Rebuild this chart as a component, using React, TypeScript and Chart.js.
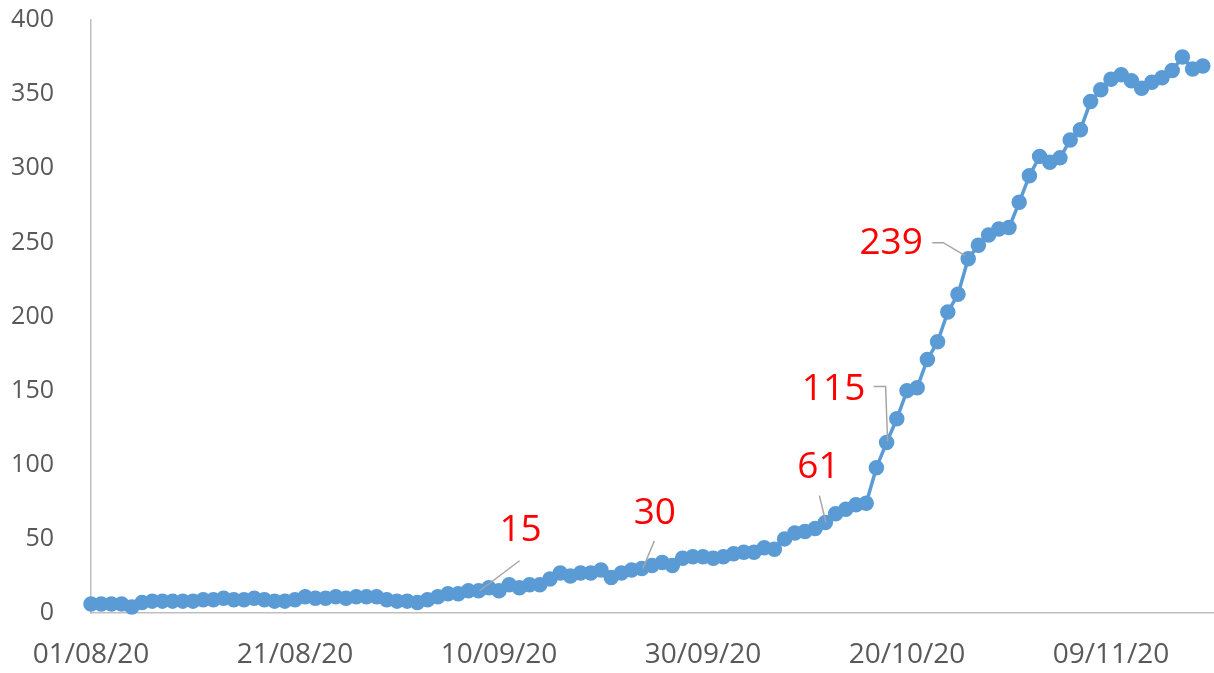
import React, { useEffect, useRef } from "react";
import { Chart, registerables } from "chart.js";

Chart.register(...registerables);

// Day index 0 = 01/08/20
const startDate = [2020, 7, 1];
const tickLabels = ["01/08/20", "21/08/20", "10/09/20", "30/09/20", "20/10/20", "09/11/20"];
const values = [
  6, 6, 6, 6, 4, 7, 8, 8, 8, 8,
  8, 9, 9, 10, 9, 9, 10, 9, 8, 8,
  9, 11, 10, 10, 11, 10, 11, 11, 11, 9,
  8, 8, 7, 9, 11, 13, 13, 15, 15, 17,
  15, 19, 17, 19, 19, 23, 27, 25, 27, 27,
  29, 24, 27, 29, 30, 32, 34, 32, 37, 38,
  38, 37, 38, 40, 41, 41, 44, 43, 50, 54,
  55, 57, 61, 67, 70, 73, 74, 98, 115, 131,
  150, 152, 171, 183, 203, 215, 239, 248, 255, 259,
  260, 277, 295, 308, 304, 307, 319, 326, 345, 353,
  360, 363, 359, 354, 358, 361, 366, 375, 367, 369,
];
const labelledDays = [38, 54, 72, 78, 86];

const categories = values.map((_, i) => {
  const d = new Date(startDate[0], startDate[1], startDate[2] + i);
  const dd = String(d.getDate()).padStart(2, "0");
  const mm = String(d.getMonth() + 1).padStart(2, "0");
  const yy = String(d.getFullYear()).slice(2);
  return `${dd}/${mm}/${yy}`;
});

// label text offsets and leader lines, relative to the point (px)
const labelStyle: Record<number, { dx: number; dy: number; leader: number[][] }> = {
  38: { dx: 42, dy: -60, leader: [[41, -30], [1, 0]] },
  54: { dx: 13, dy: -55, leader: [[12.5, -27.5], [1, 0]] },
  72: { dx: -7, dy: -55, leader: [[-6, -27], [0.5, 0]] },
  78: { dx: -53, dy: -53, leader: [[-13, -56], [-1, -56], [1, -1]] },
  86: { dx: -77, dy: -15, leader: [[-36, -16], [-25, -16], [-3, -3]] },
};

const dataLabelPlugin = {
  id: "dataLabelPlugin",
  afterDatasetsDraw(chart: any) {
    const ctx = chart.ctx;
    const meta = chart.getDatasetMeta(0);
    ctx.save();
    labelledDays.forEach((i) => {
      const pt = meta.data[i];
      const st = labelStyle[i];
      if (!pt || !st) return;
      ctx.strokeStyle = "#A6A6A6";
      ctx.lineWidth = 1.5;
      ctx.beginPath();
      st.leader.forEach(([lx, ly], k) => {
        if (k === 0) ctx.moveTo(pt.x + lx, pt.y + ly);
        else ctx.lineTo(pt.x + lx, pt.y + ly);
      });
      ctx.stroke();
      ctx.fillStyle = "#FF0000";
      ctx.font = "37px 'Open Sans'";
      ctx.textAlign = "center";
      ctx.textBaseline = "middle";
      ctx.fillText(String(values[i]), pt.x + st.dx, pt.y + st.dy);
    });
    ctx.restore();
  },
};

export default function App() {
  const ref = useRef<HTMLCanvasElement | null>(null);
  useEffect(() => {
    if (!ref.current) return;
    const chart = new Chart(ref.current, {
      type: "line",
      data: {
        datasets: [
          {
            data: values.map((v, i) => ({ x: i, y: v })),
            borderColor: "#5B9BD5",
            backgroundColor: "#5B9BD5",
            borderWidth: 3.5,
            pointRadius: 7,
            pointBorderWidth: 1.5,
            pointBackgroundColor: "#5B9BD5",
            pointBorderColor: "#5B9BD5",
            tension: 0,
            clip: false,
          },
        ],
      },
      options: {
        responsive: false,
        animation: false,
        layout: { autoPadding: false, padding: { left: 0, right: 1, top: 20, bottom: 0 } },
        plugins: { legend: { display: false }, tooltip: { enabled: false } },
        scales: {
          x: {
            type: "linear",
            min: 0,
            max: 110,
            grid: {
              display: true,
              drawOnChartArea: false,
              drawTicks: true,
              tickLength: 25,
              color: "rgba(0,0,0,0)",
            },
            border: { display: true, color: "#BFBFBF", width: 1.5 },
            ticks: {
              stepSize: 20,
              includeBounds: false,
              autoSkip: false,
              maxRotation: 0,
              padding: 0,
              color: "#595959",
              font: { family: "'Open Sans'", size: 28 },
              callback: (v: any) => {
                const n = Number(v);
                if (n % 20 !== 0) return "";
                const lbl = tickLabels[n / 20];
                return lbl !== undefined ? lbl : categories[n] || "";
              },
            },
            afterFit: (s: any) => {
              s.height = 60;
              s.paddingLeft = 0;
              s.paddingRight = 0;
            },
          },
          y: {
            min: 0,
            max: 400,
            grid: {
              display: true,
              drawOnChartArea: false,
              drawTicks: true,
              tickLength: 37,
              color: "rgba(0,0,0,0)",
            },
            border: { display: true, color: "#BFBFBF", width: 1.5 },
            ticks: {
              stepSize: 50,
              padding: 0,
              color: "#595959",
              font: { family: "'Open Sans'", size: 25 },
            },
            afterFit: (s: any) => {
              s.width = 91;
            },
          },
        },
      },
      plugins: [dataLabelPlugin],
    });
    return () => chart.destroy();
  }, []);
  return (
    <div style={{ position: "absolute", left: 0, top: 0, width: 1214, height: 673, background: "#fff", overflow: "hidden" }}>
      <canvas ref={ref} width={1214} height={673} style={{ display: "block" }} />
    </div>
  );
}
